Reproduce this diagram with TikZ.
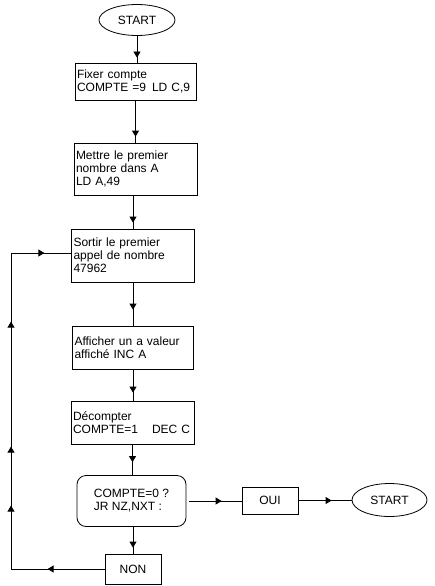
\documentclass[tikz,border=0pt]{standalone}
\usepackage{fontspec}
\setmainfont{Liberation Sans}
\usetikzlibrary{arrows.meta, decorations.markings, shapes.geometric}

\tikzset{
  texte/.style={font=\fontsize{12}{13}\selectfont},
  boite/.style={draw, rectangle, line width=0.8pt, texte, inner xsep=2pt, inner ysep=0pt, align=left},
  terminal/.style={draw, ellipse, line width=0.8pt, texte, inner sep=0pt},
  test/.style={draw, rectangle, rounded corners=9pt, line width=0.8pt, texte, inner sep=0pt, align=left},
  fleche/.style={line width=0.8pt},
  pointe/.style={postaction={decorate, decoration={markings,
      mark=at position #1 with {\arrow{Triangle[length=6pt,width=7pt]}}}}}
}

\begin{document}
\begin{tikzpicture}[x=1pt, y=-1pt]
    \useasboundingbox (0,0) rectangle (434,586);

    % Debut
    \node[terminal, minimum width=76pt, minimum height=31pt] (start) at (137,20) {START};

    % Corps de la boucle
    \node[boite, text width=117pt, minimum height=37pt] (box1) at (135.5,81.5) {Fixer compte\\COMPTE =9 \,LD C,9};
    \node[boite, text width=119pt, minimum height=52pt] (box2) at (135.5,169) {Mettre le premier\\nombre dans A\\LD A,49};
    \node[boite, text width=119pt, minimum height=53pt] (box3) at (133,255.5) {Sortir le premier\\appel de nombre\\47962};
    \node[boite, text width=117pt, minimum height=43pt] (box4) at (133,347.5) {Afficher un a valeur\\affiché INC A};
    \node[boite, text width=119pt, minimum height=43pt] (box5) at (132.5,422.5) {Décompter\\COMPTE=1\hspace{14pt}DEC C};

    % Test et sorties
    \node[test, minimum width=109pt, minimum height=51pt] (cond) at (131.5,501) {COMPTE=0 ?\\JR NZ,NXT :};
    \node[boite, minimum width=56pt, minimum height=27pt, align=center] (oui) at (270,500.5) {OUI};
    \node[terminal, minimum width=75pt, minimum height=33pt] (fin) at (389.5,500) {START};
    \node[boite, minimum width=56pt, minimum height=30pt, align=center] (non) at (133,569) {NON};

    \coordinate (coinbas) at (11,569);
    \coordinate (coinhaut) at (11,253);

    % Liaisons
    \draw[fleche, pointe=-5pt] (start.south) -- (start.south |- box1.north);
    \draw[fleche, pointe=-6pt] (box1.south) -- (box1.south |- box2.north);
    \draw[fleche, pointe=-6pt] (box3.north |- box2.south) -- (box3.north);
    \draw[fleche, pointe=-16pt] (box3.south) -- (box4.north);
    \draw[fleche, pointe=-8pt] (box4.south) -- (box4.south |- box5.north);
    \draw[fleche, pointe=-13pt] (box5.south) -- (box5.south |- cond.north);
    \draw[fleche, pointe=-6pt] (non.north |- cond.south) -- (non.north);
    \draw[fleche, pointe=-20pt] ([xshift=3pt]cond.east) -- (cond.east -| oui.west);
    \draw[fleche, pointe=-20pt] (oui.east) -- (oui.east -| fin.west);

    % Retour
    \draw[fleche, pointe=57pt, pointe=157pt, pointe=216pt, pointe=341pt, pointe=443pt]
        (non.west) -- (coinbas) -- (coinhaut) -- (coinhaut -| box3.west);
\end{tikzpicture}
\end{document}
